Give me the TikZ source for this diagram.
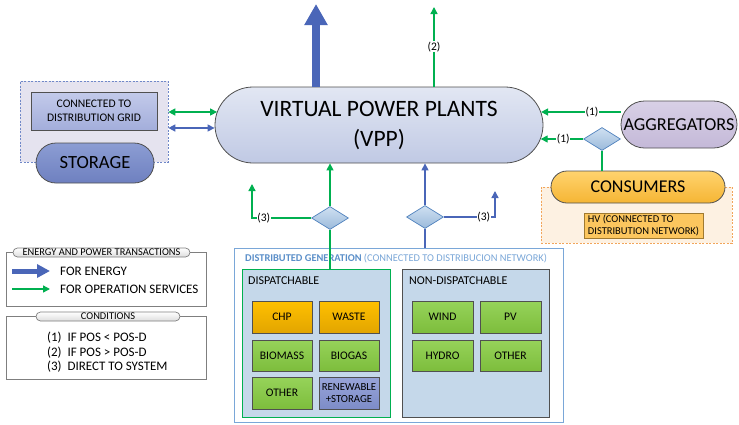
\documentclass[tikz,border=0pt]{standalone}
\usepackage{fontspec}
\setmainfont{Carlito}
\usetikzlibrary{shapes.misc,shapes.geometric,arrows.meta,calc}
\definecolor{gr}{HTML}{00B050}
\definecolor{bl}{HTML}{4A66B8}
\definecolor{bord}{HTML}{505050}
\definecolor{dgblue}{HTML}{7AA7D8}
\definecolor{dgtitle}{HTML}{5B8FC9}
\definecolor{panel}{HTML}{C5D8EA}
\definecolor{HTML4F81BD}{HTML}{4F81BD}
\definecolor{diatop}{HTML}{CFE0F1}
\definecolor{diabot}{HTML}{9BBADB}
\definecolor{HTMLorT}{HTML}{FFC000}
\definecolor{HTMLorB}{HTML}{E2A500}
\definecolor{HTMLgrT}{HTML}{96D35A}
\definecolor{HTMLgrB}{HTML}{7DBD3C}
\definecolor{HTML7F7F7F}{HTML}{7F7F7F}
\definecolor{HTMLDDDDDD}{HTML}{DDDDDD}
\definecolor{HTMLvT}{HTML}{E2E7F3}\definecolor{HTMLvB}{HTML}{C0C9E4}
\definecolor{HTMLstbg}{HTML}{E5E3EF}
\definecolor{HTMLstd}{HTML}{7088C8}
\definecolor{HTMLcT}{HTML}{C3CAEA}\definecolor{HTMLcB}{HTML}{A3AEDB}
\definecolor{HTMLsT}{HTML}{8C9DD3}\definecolor{HTMLsB}{HTML}{6E80C0}
\definecolor{HTMLaT}{HTML}{D8D0E6}\definecolor{HTMLaB}{HTML}{C4B9D8}
\definecolor{HTMLpeach}{HTML}{FDF1E2}\definecolor{HTMLpd}{HTML}{F2A55A}
\definecolor{HTMLoT}{HTML}{FFD36E}\definecolor{HTMLoB}{HTML}{F5B534}
\definecolor{HTMLhv}{HTML}{FCC65E}\definecolor{HTMLhvd}{HTML}{A07A30}
\definecolor{HTMLrT}{HTML}{98A4D8}\definecolor{HTMLrB}{HTML}{7D8CC8}
\tikzset{
  pill/.style={rounded rectangle, draw=bord, line width=0.8pt, inner sep=0pt, align=center},
  tbox/.style={rectangle, draw=bord, line width=0.7pt, inner sep=0pt, align=center},
  dia/.style={diamond, draw=HTML4F81BD, line width=0.7pt, inner sep=0pt, minimum width=37pt, minimum height=23pt, top color=diatop, bottom color=diabot},
  gline/.style={draw=gr, line width=1.4pt},
  bline/.style={draw=bl, line width=1.4pt},
  tip/.style={-{Triangle[length=7pt,width=7pt]}},
  lab/.style={fill=white, inner sep=0.5pt, font=\fontsize{11.5}{12}\selectfont},
  orb/.style={tbox, minimum width=60pt, minimum height=32pt, top color=HTMLorT, bottom color=HTMLorB, font=\fontsize{11.6}{13}\selectfont},
  grb/.style={tbox, minimum width=60pt, minimum height=31pt, top color=HTMLgrT, bottom color=HTMLgrB, font=\fontsize{11.6}{13}\selectfont},
  legpill/.style={rounded rectangle, draw=HTML7F7F7F, line width=0.7pt, inner sep=0pt, top color=white, bottom color=HTMLDDDDDD, font=\fontsize{10.4}{10}\selectfont},
}
\begin{document}
\begin{tikzpicture}[x=1pt,y=-1pt]
\useasboundingbox (0,0) rectangle (739,424);

% ---------- VPP ----------
\node[pill, minimum width=328pt, minimum height=76pt, top color=HTMLvT, bottom color=HTMLvB,
      font=\fontsize{23.5}{30}\selectfont] (vpp) at (379,125) {VIRTUAL POWER PLANTS\\(VPP)};

% big energy arrow up
\coordinate (bigtop) at (316,4);
\draw[draw=bl, line width=8pt, -{Triangle[length=21pt,width=22pt]}] (vpp.north -| bigtop) -- (bigtop);
% (2) green arrow up
\coordinate (twotop) at (434,7);
\draw[gline, tip] (vpp.north -| twotop) -- node[lab, pos=0.5] (l2) {(2)} (twotop);

% ---------- STORAGE ----------
\node[rectangle, draw=HTMLstd, line width=0.7pt, dash pattern=on 2pt off 1.5pt, fill=HTMLstbg,
      minimum width=148pt, minimum height=81pt, inner sep=0pt] (stobox) at (94,121.5) {};
\node[tbox, minimum width=126pt, minimum height=38pt, top color=HTMLcT, bottom color=HTMLcB,
      font=\fontsize{11.6}{13.5}\selectfont] (grid) at (94,111) {CONNECTED TO\\DISTRIBUTION GRID};
\node[pill, minimum width=118pt, minimum height=40pt, top color=HTMLsT, bottom color=HTMLsB,
      font=\fontsize{18.6}{20}\selectfont] (storage) at (95,163) {STORAGE};

\draw[gline, {Triangle[length=7pt,width=7pt]}-{Triangle[length=7pt,width=7pt]}]
  ([yshift=9.5pt]stobox.east) -- ([xshift=2.5pt,yshift=13pt]vpp.west);
\draw[bline, {Triangle[length=7pt,width=7pt]}-{Triangle[length=7pt,width=7pt]}]
  ([yshift=-6.5pt]stobox.east) -- ([yshift=-3pt]vpp.west);

% ---------- AGGREGATORS / CONSUMERS ----------
\node[pill, minimum width=116pt, minimum height=47pt, top color=HTMLaT, bottom color=HTMLaB,
      font=\fontsize{18.2}{20}\selectfont] (aggr) at (679,124.5) {AGGREGATORS};
\draw[gline, tip] ([yshift=12.5pt]aggr.west) -- node[lab, pos=0.36] (l1a) {(1)} ([xshift=-2.3pt,yshift=13pt]vpp.east);

\node[dia] (dc) at (602,139) {};
\draw[gline, tip] (dc.west) -- node[lab, pos=0.47] (l1b) {(1)} ([xshift=-2.7pt,yshift=-14pt]vpp.east);

\node[rectangle, draw=HTMLpd, line width=0.7pt, dash pattern=on 2pt off 1.5pt, fill=HTMLpeach,
      minimum width=191pt, minimum height=56pt, inner sep=0pt] (consbox) at (636.5,215) {};
\node[pill, minimum width=174pt, minimum height=32pt, top color=HTMLoT, bottom color=HTMLoB,
      font=\fontsize{18}{20}\selectfont] (cons) at (638,187) {CONSUMERS};
\draw[gline] (cons.north -| dc) -- (dc.south);
\node[rectangle, draw=HTMLhvd, line width=0.7pt, fill=HTMLhv, minimum width=119pt, minimum height=25pt,
      inner sep=0pt, align=left, font=\fontsize{10.5}{11.5}\selectfont] (hv) at (643.5,225.5)
      {HV (CONNECTED TO\\DISTRIBUTION NETWORK)};

% ---------- DISTRIBUTED GENERATION ----------
\node[rectangle, draw=dgblue, line width=1pt, fill=white, minimum width=329pt, minimum height=174pt,
      inner sep=0pt] (dg) at (398.5,335) {};
\node[anchor=west, inner sep=0pt, font=\fontsize{10.4}{11}\selectfont] (dgt) at (245,258)
  {\textcolor{dgtitle}{\bfseries DISTRIBUTED GENERATION} \textcolor{dgblue}{(CONNECTED TO DISTRIBUCION NETWORK)}};

\node[rectangle, draw=gr, line width=1pt, fill=panel, minimum width=148pt, minimum height=148pt, inner sep=0pt] (disp) at (316,343) {};
\node[rectangle, draw=bord, line width=0.8pt, fill=panel, minimum width=147pt, minimum height=148pt, inner sep=0pt] (ndisp) at (475.5,343) {};
\node[anchor=west, inner sep=0pt, font=\fontsize{12}{13}\selectfont] (displ) at (248,281) {DISPATCHABLE};
\node[anchor=west, inner sep=0pt, font=\fontsize{12}{13}\selectfont] (ndispl) at (409,281) {NON-DISPATCHABLE};

\node[orb] (chp) at (282,317) {CHP};
\node[orb] (waste) at (349,317) {WASTE};
\node[grb] (biomass) at (282,355.5) {BIOMASS};
\node[grb] (biogas) at (349,355.5) {BIOGAS};
\node[grb, minimum height=32pt] (other1) at (282,393) {OTHER};
\node[tbox, minimum width=60pt, minimum height=32pt, top color=HTMLrT, bottom color=HTMLrB,
      font=\fontsize{10.8}{11.5}\selectfont] (renew) at (349,393) {RENEWABLE\\+STORAGE};
\node[grb, minimum width=61pt, minimum height=32pt] (wind) at (442.5,317) {WIND};
\node[grb, minimum width=61pt, minimum height=32pt] (pv) at (510.5,317) {PV};
\node[grb, minimum width=61pt] (hydro) at (442.5,355.5) {HYDRO};
\node[grb, minimum width=61pt] (other2) at (510.5,355.5) {OTHER};

% diamonds and flows to VPP
\node[dia] (d1) at (330,218) {};
\node[dia] (d2) at (425,217) {};
\draw[gline] (disp.north -| d1) -- (d1.south);
\draw[gline, tip] (d1.north) -- (vpp.south -| d1);
\draw[bline] (dg.north -| d2) -- (d2.south);
\draw[bline, tip] (d2.north) -- (vpp.south -| d2);

\coordinate (g3top) at (252,184);
\draw[gline, tip] (d1.west) -- node[lab, pos=0.8] (l3a) {(3)} (d1.west -| g3top) -- (g3top);
\coordinate (b3top) at (495,191);
\draw[bline, tip] (d2.east) -- node[lab, pos=0.78] (l3b) {(3)} (d2.east -| b3top) -- (b3top);

% ---------- LEGEND ----------
\node[rectangle, draw=HTML7F7F7F, line width=0.8pt, fill=white, minimum width=200pt, minimum height=54pt, inner sep=0pt] (leg1) at (106,279) {};
\node[legpill, minimum width=177pt, minimum height=9pt] (leg1t) at (101.5,252.5) {ENERGY AND POWER TRANSACTIONS};
\coordinate (le1a) at (12,271); \coordinate (le1b) at (50,271);
\draw[draw=bl, line width=5pt, -{Triangle[length=13pt,width=13pt]}] (le1a) -- (le1b);
\node[anchor=west, inner sep=0pt, font=\fontsize{13}{14}\selectfont] (fe) at (60,271) {FOR ENERGY};
\coordinate (le2a) at (12,289); \coordinate (le2b) at (50,289);
\draw[gline, tip] (le2a) -- (le2b);
\node[anchor=west, inner sep=0pt, font=\fontsize{13}{14}\selectfont] (fo) at (60,289) {FOR OPERATION SERVICES};

\node[rectangle, draw=HTML7F7F7F, line width=0.8pt, fill=white, minimum width=200pt, minimum height=63pt, inner sep=0pt] (leg2) at (106,347.5) {};
\node[legpill, minimum width=144pt, minimum height=9pt] (leg2t) at (108,316.5) {CONDITIONS};
\node[anchor=west, inner sep=0pt, align=left, font=\fontsize{13}{14.5}\selectfont] (conds) at (47,352.5)
  {(1)\ \ IF POS < POS-D\\(2)\ \ IF POS > POS-D\\(3)\ \ DIRECT TO SYSTEM};

\end{tikzpicture}
\end{document}
